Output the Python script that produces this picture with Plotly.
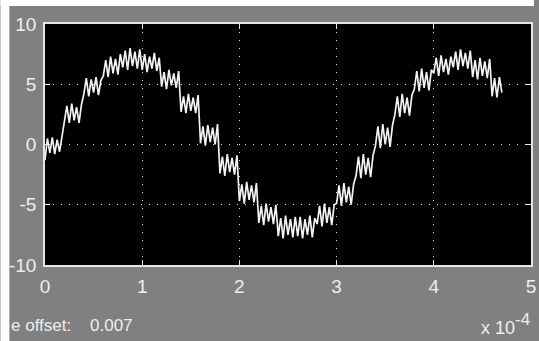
import numpy as np
import plotly.graph_objects as go

# Scope trace: sampled every 2.5 us (time axis shown in units of 1e-4 s)
SAMPLE_STEP = 0.025  # x 1e-4 s

signal = [
    -1.3, 0.5, -0.7, 0.6, -0.8, 0.4, -0.6, 0.7,
    1.9, 3.2, 1.8, 3.4, 2.0, 3.1, 1.8, 3.3,
    4.2, 5.5, 4.0, 5.4, 4.3, 5.6, 4.1, 5.3,
    5.7, 7.0, 5.6, 7.3, 5.9, 7.1, 5.8, 7.5,
    6.4, 7.8, 6.2, 8.0, 6.5, 7.7, 6.3, 7.9,
    6.2, 7.5, 6.0, 7.3, 6.3, 7.6, 6.1, 7.2,
    4.8, 6.0, 4.6, 6.2, 4.9, 5.9, 4.7, 6.1,
    2.7, 4.0, 2.6, 4.2, 2.8, 3.9, 2.6, 4.1,
    0.1, 1.5, -0.1, 1.6, 0.2, 1.4, 0.0, 1.7,
    -2.4, -1.0, -2.6, -0.8, -2.3, -1.1, -2.5, -0.9,
    -4.7, -3.3, -4.9, -3.1, -4.6, -3.4, -4.8, -3.2,
    -6.5, -5.1, -6.7, -4.9, -6.4, -5.2, -6.6, -5.0,
    -7.6, -6.1, -7.8, -5.9, -7.5, -6.2, -7.7, -6.0,
    -7.6, -6.0, -7.8, -6.2, -7.5, -5.9, -7.7, -6.1,
    -6.6, -5.1, -6.8, -4.9, -6.5, -5.2, -6.7, -5.0,
    -4.9, -3.4, -5.1, -3.2, -4.8, -3.5, -5.0, -3.3,
    -2.6, -1.0, -2.8, -0.8, -2.5, -1.1, -2.7, -0.9,
    -0.1, 1.5, -0.3, 1.7, 0.0, 1.4, -0.2, 1.6,
    2.5, 4.0, 2.3, 4.2, 2.6, 3.9, 2.4, 4.1,
    4.6, 6.1, 4.4, 6.3, 4.7, 6.0, 4.5, 6.2,
    5.9, 7.2, 5.7, 7.4, 6.0, 7.1, 5.8, 7.3,
    6.4, 7.7, 6.2, 7.9, 6.5, 7.6, 6.3, 7.8,
    5.6, 7.0, 5.4, 7.2, 5.7, 6.9, 5.5, 7.1,
    4.0, 5.5, 3.9, 5.6, 4.3,
]
time = np.arange(len(signal)) * SAMPLE_STEP

x_ticks = [0, 1, 2, 3, 4, 5]
y_ticks = [-10, -5, 0, 5, 10]
time_offset = "0.007"

W, H = 539, 341
L, R, T, B = 45, 3, 24, 76
PW, PH = W - L - R, H - T - B

def px(xp):
    return (xp - L) / PW

def py(yp):
    return (H - B - yp) / PH

GRAY = "#808080"
FG = "#eeeeee"
FONT = "Liberation Sans"

fig = go.Figure()
fig.add_trace(go.Scatter(
    x=time, y=signal, mode="lines",
    line=dict(color="#f2f2f2", width=1.7),
    hoverinfo="skip", showlegend=False,
))

axis_common = dict(
    showline=True, linecolor="#e6e6e6", linewidth=1.5, mirror="ticks",
    ticks="inside", ticklen=5, tickwidth=1, tickcolor="#e6e6e6",
    showgrid=True, gridcolor="#e0e0e0", gridwidth=1, griddash="1px,7px",
    zeroline=False, fixedrange=True, ticklabeloverflow="allow",
    tickfont=dict(family=FONT, size=19, color=FG),
)

fig.update_xaxes(range=[0, 5], tickvals=x_ticks, ticktext=[str(v) for v in x_ticks],
                 ticklabelstandoff=3, **axis_common)
fig.update_yaxes(range=[-10, 10], tickvals=y_ticks, ticktext=[str(v) for v in y_ticks],
                 ticklabelstandoff=3, **axis_common)

# white frame strips at the top and left edges of the window
fig.add_shape(type="rect", xref="paper", yref="paper",
              x0=px(0), x1=px(W), y0=py(6), y1=py(0),
              fillcolor="white", line_width=0, layer="above")
fig.add_shape(type="rect", xref="paper", yref="paper",
              x0=px(0), x1=px(9), y0=py(H), y1=py(0),
              fillcolor="white", line_width=0, layer="above")

ann_font = dict(family=FONT, size=17, color=FG)
fig.add_annotation(text="e offset:", xref="paper", yref="paper",
                   x=px(9), y=py(325), xanchor="left", yanchor="middle",
                   showarrow=False, font=ann_font)
fig.add_annotation(text=time_offset, xref="paper", yref="paper",
                   x=px(88), y=py(325), xanchor="left", yanchor="middle",
                   showarrow=False, font=ann_font)
fig.add_annotation(text="x 10", xref="paper", yref="paper",
                   x=px(483), y=py(340), xanchor="left", yanchor="bottom",
                   showarrow=False, font=dict(family=FONT, size=18, color=FG))
fig.add_annotation(text="-4", xref="paper", yref="paper",
                   x=px(518), y=py(319), xanchor="left", yanchor="middle",
                   showarrow=False, font=dict(family=FONT, size=17, color=FG))

fig.update_layout(
    width=W, height=H,
    margin=dict(l=L, r=R, t=T, b=B),
    paper_bgcolor=GRAY, plot_bgcolor="black",
    showlegend=False,
)

fig.write_html("out.html", config={"displayModeBar": False})
